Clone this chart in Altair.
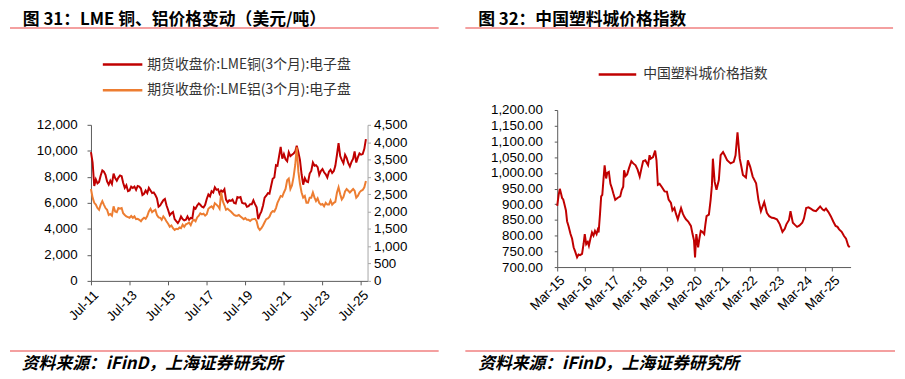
import altair as alt
import pandas as pd

FONT = "Liberation Sans"
CJK = "Noto Sans CJK SC"

# ---------------- Left chart data (monthly, Jul-2011 .. Oct-2025) ----------------
copper = [
    9900, 9100, 7300, 7800, 7500, 7600,
    8100, 8500, 8400, 8150, 7650, 7400, 7700, 7450, 8250, 7900, 7700, 7950,
    8100, 8050, 7550, 7150, 7350, 6900, 6950, 7250, 7150, 7250, 7000, 7300,
    7250, 7100, 6600, 6700, 6950, 6750, 7150, 6950, 6750, 6800, 6600, 6350,
    5700, 5800, 6000, 6200, 6300, 5800, 5450, 5050, 5200, 5300, 4750, 4600,
    4450, 4650, 4950, 4750, 4650, 4700, 4950, 4700, 4850, 4800, 5650, 5550,
    5800, 5950, 5850, 5700, 5650, 5850, 6300, 6650, 6500, 6900, 6800, 7200,
    7000, 7050, 6700, 6950, 6850, 7050, 6250, 6050, 6200, 6150, 6250, 6000,
    5950, 6450, 6400, 6450, 6000, 5950, 5950, 5700, 5750, 5900, 5900, 6200,
    5900, 5650, 4750, 5100, 5350, 5800, 6400, 6550, 6750, 6700, 7300, 7850,
    7950, 8900, 8850, 9600, 10300, 9400, 9750, 9350, 9200, 9900, 9600, 9700,
    9800, 9950, 10400, 9900, 9300, 8200, 7400, 7900, 7650, 7600, 8250, 8450,
    9100, 8850, 8900, 8750, 8150, 8450, 8600, 8350, 8200, 7950, 8400, 8550,
    8300, 8450, 8850, 9700, 10600, 9600, 9300, 9050, 9700, 9450, 9050, 8800,
    9150, 9400, 9950, 9100, 9500, 9800, 9700, 9750, 10150, 10900,
]
aluminum = [
    2650, 2400, 2250, 2200, 2100, 2050,
    2200, 2300, 2200, 2100, 2050, 1900, 1930, 1880, 2150, 2000, 1980, 2100,
    2080, 2100, 1950, 1900, 1860, 1840, 1820, 1870, 1820, 1860, 1780, 1790,
    1760, 1720, 1780, 1820, 1790, 1870, 2000, 2080, 1980, 2020, 2050, 1900,
    1830, 1820, 1760, 1860, 1800, 1710, 1650, 1560, 1600, 1520, 1470, 1500,
    1490, 1540, 1520, 1620, 1560, 1630, 1650, 1680, 1610, 1720, 1760, 1720,
    1830, 1880, 1950, 1920, 1940, 1880, 1920, 2080, 2120, 2150, 2090, 2240,
    2200, 2150, 2080, 2550, 2300, 2180, 2050, 2080, 2040, 2000, 1950, 1900,
    1880, 1880, 1900, 1860, 1820, 1780, 1810, 1760, 1760, 1730, 1770, 1780,
    1790, 1720, 1540, 1470, 1520, 1600, 1690, 1780, 1800, 1850, 1960, 2010,
    2000, 2100, 2250, 2350, 2450, 2430, 2550, 2650, 2900, 2950, 2650, 2750,
    3000, 3350, 3850, 3150, 2800, 2550, 2400, 2450, 2250, 2250, 2400, 2400,
    2550, 2400, 2300, 2380, 2250, 2200, 2220, 2150, 2250, 2200, 2200, 2320,
    2200, 2250, 2280, 2550, 2700, 2500, 2350, 2420, 2580, 2650, 2600, 2550,
    2600, 2650, 2600, 2400, 2450, 2550, 2600, 2620, 2700, 2880,
]
lme_dates = pd.date_range("2011-07-01", periods=len(copper), freq="MS")

# ---------------- Right chart data ----------------
plastic_dates = [
    "2015-03-01", "2015-03-20", "2015-04-05", "2015-04-20", "2015-05-05", "2015-05-20",
    "2015-06-05", "2015-06-25", "2015-07-10", "2015-07-30", "2015-08-25", "2015-09-15",
    "2015-10-05", "2015-10-25", "2015-11-20", "2015-12-10", "2015-12-30", "2016-01-25",
    "2016-02-15", "2016-03-01", "2016-03-20", "2016-04-10", "2016-04-25", "2016-05-15",
    "2016-06-05", "2016-06-25", "2016-07-15", "2016-08-05", "2016-08-20", "2016-09-01",
    "2016-09-20", "2016-10-05", "2016-10-20", "2016-11-05", "2016-11-20", "2016-12-10",
    "2016-12-25", "2017-01-15", "2017-02-05", "2017-02-25", "2017-03-15", "2017-04-10",
    "2017-05-10", "2017-06-15", "2017-07-05", "2017-07-25", "2017-08-05", "2017-08-25",
    "2017-09-15", "2017-10-10", "2017-11-10", "2017-12-05", "2018-01-05", "2018-02-01",
    "2018-03-01", "2018-03-25", "2018-04-15", "2018-05-15", "2018-06-20", "2018-07-10",
    "2018-07-25", "2018-08-25", "2018-09-22", "2018-10-10", "2018-10-28", "2018-11-20",
    "2018-12-20", "2019-01-25", "2019-02-25", "2019-03-20", "2019-04-20", "2019-05-10",
    "2019-06-05", "2019-06-25", "2019-07-20", "2019-08-10", "2019-09-01", "2019-09-25",
    "2019-10-15", "2019-11-05", "2019-12-05", "2020-01-10", "2020-02-01", "2020-02-20",
    "2020-03-05", "2020-03-22", "2020-04-15", "2020-05-01", "2020-05-20", "2020-06-10",
    "2020-07-05", "2020-07-20", "2020-08-05", "2020-09-05", "2020-09-28", "2020-10-15",
    "2020-10-28", "2020-11-20", "2020-12-15", "2021-01-15", "2021-02-08", "2021-03-12",
    "2021-04-05", "2021-05-05", "2021-06-20", "2021-08-01", "2021-08-25", "2021-09-20",
    "2021-10-20", "2021-11-10", "2021-12-01", "2022-01-10", "2022-02-05", "2022-03-08",
    "2022-04-10", "2022-05-25", "2022-06-25", "2022-07-28", "2022-08-15", "2022-09-10",
    "2022-10-15", "2022-11-15", "2022-12-20", "2023-01-15", "2023-02-25", "2023-03-15",
    "2023-04-05", "2023-05-10", "2023-06-10", "2023-07-01", "2023-08-05", "2023-08-25",
    "2023-09-25", "2023-10-20", "2023-11-20", "2023-12-20", "2024-01-28", "2024-02-20",
    "2024-03-20", "2024-04-20", "2024-05-25", "2024-06-25", "2024-07-28", "2024-08-20",
    "2024-09-22", "2024-10-25", "2024-11-15", "2024-12-08", "2025-01-10", "2025-02-10",
    "2025-03-15", "2025-04-15", "2025-05-10", "2025-06-01", "2025-07-05", "2025-08-05",
    "2025-09-01", "2025-09-30", "2025-10-20",
]
plastic_values = [
    895, 930, 949, 935, 920, 915,
    900, 880, 846, 830, 805, 790,
    763, 750, 731, 740, 738, 742,
    775, 805, 773, 780, 768, 790,
    810, 800, 815, 805, 818, 810,
    870, 925, 930, 980, 1024, 982,
    1000, 1003, 965, 951, 935, 914,
    920, 925, 945, 956, 1008, 990,
    995, 1015, 1037, 1030, 1024, 1010,
    988, 1015, 1037, 1040, 1024, 1056,
    1045, 1050, 1071, 1040, 962, 965,
    955, 941, 940, 915, 904, 880,
    888, 870, 852, 870, 888, 870,
    860, 852, 845, 831, 805, 785,
    731, 805, 763, 790, 815, 812,
    805, 835, 862, 867, 914, 960,
    1045, 972, 946, 977, 1056, 1066,
    1055, 1040, 1030, 1035, 1056, 1129,
    1045, 1020, 993, 985, 1040, 1019,
    988, 967, 914, 878, 890, 907,
    873, 862, 857, 856, 852, 845,
    836, 812, 822, 836, 850, 878,
    841, 835, 828, 832, 841, 855,
    888, 890, 885, 880, 878, 884,
    893, 883, 880, 886, 875, 862,
    845, 831, 828, 820, 812, 799,
    790, 768, 763,
]

left_title = "图 31：LME 铜、铝价格变动（美元/吨）"
right_title = "图 32：中国塑料城价格指数"
legend_cu = "期货收盘价:LME铜(3个月):电子盘"
legend_al = "期货收盘价:LME铝(3个月):电子盘"
legend_plastic = "中国塑料城价格指数"
source_text = "资料来源：iFinD，上海证券研究所"

RED = "#C00000"
ORANGE = "#ED7D31"
PINK = "#F08080"
AXIS_DARK = "#595959"

lme_df = pd.DataFrame({"date": lme_dates, "copper": copper, "aluminum": aluminum})
plastic_df = pd.DataFrame({"date": pd.to_datetime(plastic_dates), "value": plastic_values})


def txt(s, x, y, size, weight="normal", style="normal", color="#000000", font=CJK):
    return alt.Chart(pd.DataFrame({"t": [s]})).mark_text(
        align="left", baseline="middle", fontSize=size, fontWeight=weight,
        fontStyle=style, color=color, font=font
    ).encode(x=alt.value(x), y=alt.value(y), text="t:N")


def rule(x1, x2, y, color, width=1.0, opacity=1.0):
    return alt.Chart(pd.DataFrame({"a": [0]})).mark_rule(
        color=color, strokeWidth=width, opacity=opacity
    ).encode(x=alt.value(x1), x2=alt.value(x2), y=alt.value(y))


def axis_common(**kw):
    base = dict(grid=False, title=None, labelFont=FONT, labelFontSize=13.5,
                labelColor="#000000", tickSize=4, domainWidth=1, tickWidth=1,
                labelFlush=False, labelOverlap=False, labelBound=False)
    base.update(kw)
    return alt.Axis(**base)


# ---------------- Left panel (plot origin at page 88,123) ----------------
x_left = alt.X(
    "date:T",
    scale=alt.Scale(domain=[alt.DateTime(year=2011, month=7, date=1),
                            alt.DateTime(year=2025, month=11, date=1)]),
    axis=axis_common(values=[alt.DateTime(year=y, month=7, date=1) for y in range(2011, 2026, 2)],
                     format="%b-%y", labelAngle=-45, domainColor=AXIS_DARK, tickColor=AXIS_DARK,
                     labelPadding=3),
)
cu_line = alt.Chart(lme_df).mark_line(color=RED, strokeWidth=2).encode(
    x=x_left,
    y=alt.Y("copper:Q", scale=alt.Scale(domain=[0, 12000], nice=False),
            axis=axis_common(orient="left", values=list(range(0, 12001, 2000)), format=",.0f",
                             domainColor=AXIS_DARK, tickColor=AXIS_DARK, labelPadding=10)),
)
al_line = alt.Chart(lme_df).mark_line(color=ORANGE, strokeWidth=2).encode(
    x=x_left,
    y=alt.Y("aluminum:Q", scale=alt.Scale(domain=[0, 4500], nice=False),
            axis=axis_common(orient="right", values=list(range(0, 4501, 500)), format=",.0f",
                             domainColor="#A6A6A6", tickColor="#A6A6A6", tickSize=3,
                             labelPadding=3)),
)
left_lines = alt.layer(cu_line, al_line).resolve_scale(y="independent")

left_deco = alt.layer(
    rule(-80, 365, -115, "#ffffff", 1, 0),
    txt(left_title, -69, -106, 17, weight="bold"),
    rule(-82, 352, -98, PINK, 1.5),
    rule(12, 52, -61, RED, 2.5),
    txt(legend_cu, 57, -61, 14, color="#333333"),
    rule(12, 52, -35, ORANGE, 2.5),
    txt(legend_al, 57, -35, 14, color="#333333"),
    rule(-82, 352, 229, PINK, 1.5),
    txt(source_text, -70, 242, 17, weight="bold", style="italic"),
)
left = alt.layer(left_lines, left_deco).properties(width=280, height=158)

# ---------------- Right panel (view origin at page 558,123; data area 108..267) ----------------
right_line = alt.Chart(plastic_df).mark_line(color=RED, strokeWidth=2).encode(
    x=alt.X("date:T",
            scale=alt.Scale(domain=[alt.DateTime(year=2015, month=3, date=1),
                                    alt.DateTime(year=2025, month=10, date=31)]),
            axis=axis_common(values=[alt.DateTime(year=y, month=3, date=1) for y in range(2015, 2026)],
                             format="%b-%y", labelAngle=-45, domainColor=AXIS_DARK,
                             tickColor=AXIS_DARK, labelPadding=2)),
    y=alt.Y("value:Q", scale=alt.Scale(domain=[700, 1200], nice=False, range=[144, -15]),
            axis=axis_common(values=list(range(700, 1201, 50)), format=",.2f",
                             domainColor=AXIS_DARK, tickColor=AXIS_DARK, tickSize=3,
                             labelPadding=12)),
)
right_deco = alt.layer(
    rule(-105, 339, -115, "#ffffff", 1, 0),
    txt(right_title, -80, -106, 17, weight="bold"),
    rule(-93, 340, -98, PINK, 1.5),
    rule(42, 80, -51, RED, 2.5),
    txt(legend_plastic, 87, -51, 14, color="#333333"),
    rule(-93, 342, 229, PINK, 1.5),
    txt(source_text, -80, 242, 17, weight="bold", style="italic"),
)
right = alt.layer(right_line, right_deco).properties(width=297, height=144)

chart = alt.hconcat(left, right, spacing=0).properties(
    padding=0, background="#ffffff"
).configure_view(stroke="transparent")

chart.save("out.html", embed_options={"renderer": "svg", "actions": False})
